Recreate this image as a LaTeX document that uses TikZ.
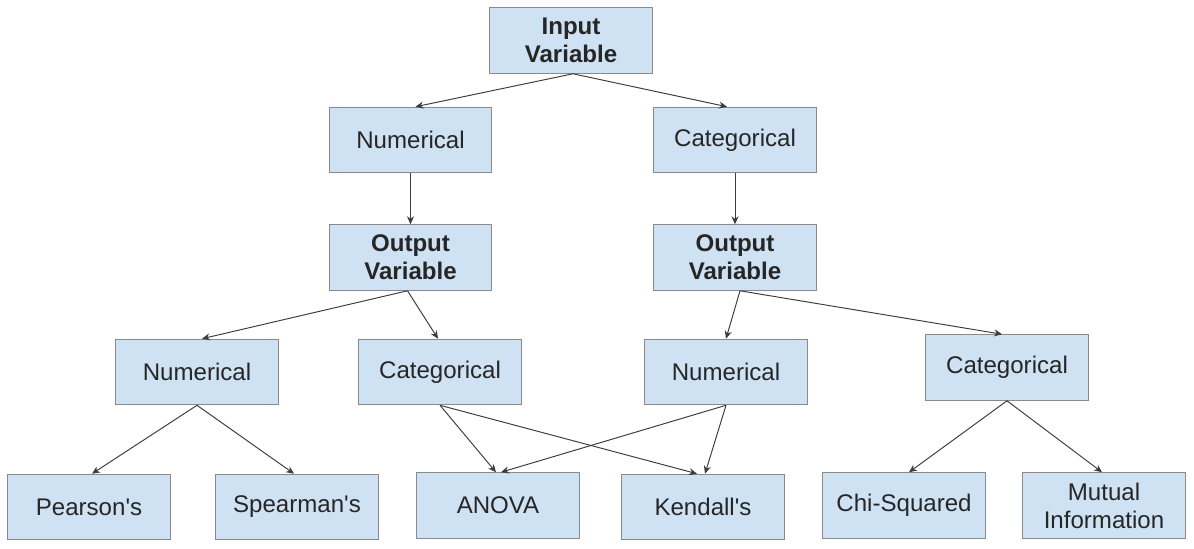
\documentclass[tikz,border=0pt]{standalone}
\usepackage{fontspec}
\setmainfont{Liberation Sans}
\usepackage{tikz}
\usetikzlibrary{arrows.meta, positioning}
\usepackage{xcolor}
\definecolor{boxfill}{HTML}{CFE2F3}
\definecolor{boxline}{HTML}{8A8A8A}
\definecolor{linkline}{HTML}{3C3C3C}

\begin{document}
\begin{tikzpicture}[
  box/.style={rectangle, draw=boxline, fill=boxfill, line width=0.6pt, minimum width=3.25cm, minimum height=1.31cm, inner sep=1pt, align=center, text=black!85, font=\fontsize{13.7}{16}\selectfont},
  arrow/.style={-{Stealth[length=4.5pt, width=4pt]}, line width=0.55pt, draw=linkline}
]
  \useasboundingbox (0,0) rectangle (23.88,-10.96);

  \node[box, font=\fontsize{13.7}{16}\selectfont\bfseries] (input) at (11.42,-0.81) {Input\\Variable};
  \node[box] (innum) at (8.21,-2.80) {Numerical};
  \node[box] (incat) at (14.70,-2.80) {Categorical};

  \node[box, font=\fontsize{13.7}{16}\selectfont\bfseries] (outl) at (8.21,-5.15) {Output\\Variable};
  \node[box, font=\fontsize{13.7}{16}\selectfont\bfseries] (outr) at (14.70,-5.15) {Output\\Variable};

  \node[box] (numnum) at (3.94,-7.44) {Numerical};
  \node[box] (numcat) at (8.80,-7.44) {Categorical};
  \node[box] (catnum) at (14.52,-7.44) {Numerical};
  \node[box] (catcat) at (20.14,-7.35) {Categorical};

  \node[box] (pearson) at (1.78,-10.14) {Pearson\textquotesingle s};
  \node[box] (spearman) at (5.94,-10.14) {Spearman\textquotesingle s};
  \node[box] (anova) at (9.96,-10.11) {ANOVA};
  \node[box] (kendall) at (14.06,-10.14) {Kendall\textquotesingle s};
  \node[box] (chisq) at (18.08,-10.11) {Chi-Squared};
  \node[box] (mutual) at (22.08,-10.11) {Mutual\\Information};

  \draw[arrow] ([xshift=0.04cm]input.south) -- ([xshift=0.1cm]innum.north);
  \draw[arrow] ([xshift=0.04cm]input.south) -- ([xshift=-0.16cm]incat.north);
  \draw[arrow] (innum) -- (outl);
  \draw[arrow] (incat) -- (outr);

  \draw[arrow] ([xshift=-0.06cm]outl.south) -- ([xshift=0.1cm]numnum.north);
  \draw[arrow] ([xshift=-0.06cm]outl.south) -- ([xshift=-0.04cm]numcat.north);
  \draw[arrow] ([xshift=0.1cm]outr.south) -- (catnum.north);
  \draw[arrow] ([xshift=0.1cm]outr.south) -- ([xshift=-0.1cm]catcat.north);

  \draw[arrow] (numnum.south) -- ([xshift=0.06cm]pearson.north);
  \draw[arrow] (numnum.south) -- ([xshift=-0.06cm]spearman.north);
  \draw[arrow] (numcat.south) -- ([xshift=-0.04cm]anova.north);
  \draw[arrow] (numcat.south) -- ([xshift=-0.12cm]kendall.north);
  \draw[arrow] (catnum.south) -- ([xshift=0.06cm]anova.north);
  \draw[arrow] (catnum.south) -- ([xshift=0.04cm]kendall.north);
  \draw[arrow] (catcat.south) -- ([xshift=0.1cm]chisq.north);
  \draw[arrow] (catcat.south) -- ([xshift=-0.04cm]mutual.north);
\end{tikzpicture}
\end{document}
